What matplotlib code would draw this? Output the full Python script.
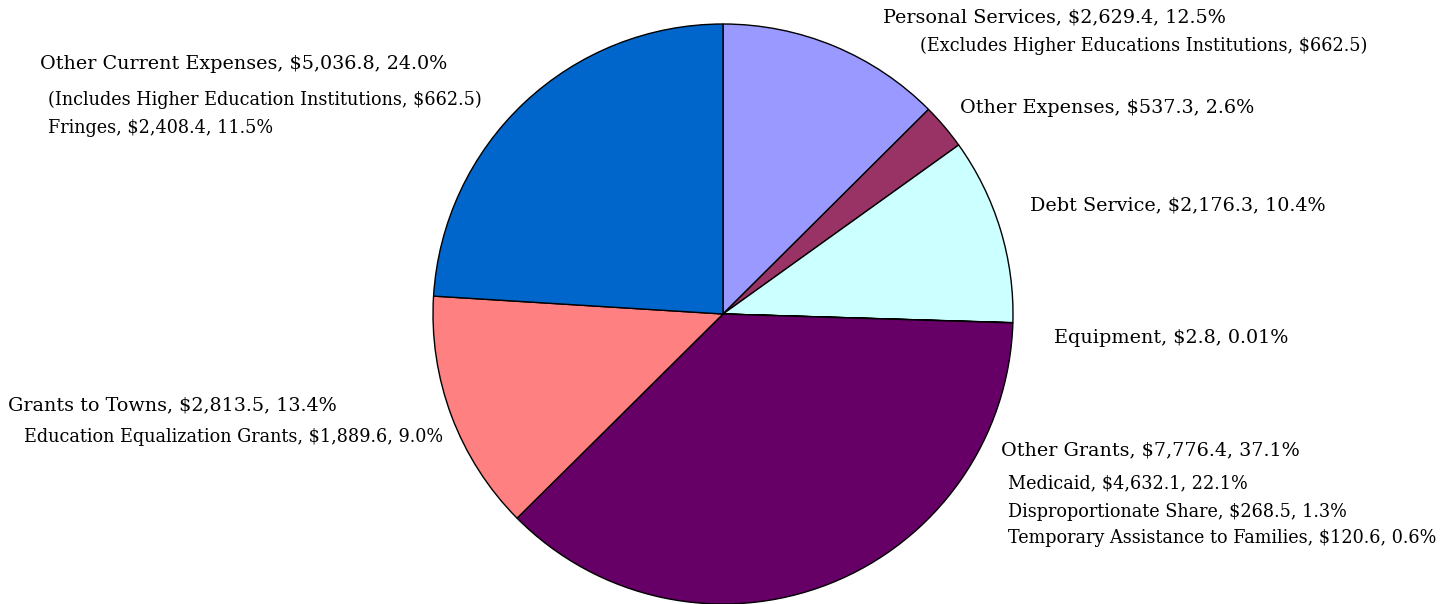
import matplotlib
matplotlib.use("Agg")
import matplotlib.pyplot as plt

# budget categories, clockwise from 12 o'clock ($ millions)
categories = ["Personal Services", "Other Expenses", "Debt Service", "Equipment",
              "Other Grants", "Grants to Towns", "Other Current Expenses"]
amounts = [2629.4, 537.3, 2176.3, 2.8, 7776.4, 2813.5, 5036.8]
pct_labels = ["12.5%", "2.6%", "10.4%", "0.01%", "37.1%", "13.4%", "24.0%"]
colors = ["#9999FF", "#993366", "#CCFFFF", "#FFFFCC", "#660066", "#FF8080", "#0066CC"]

# sub-items shown under some labels
sub_notes = {
    "Personal Services": ["(Excludes Higher Educations Institutions, $662.5)"],
    "Other Current Expenses": ["(Includes Higher Education Institutions, $662.5)",
                               "Fringes, $2,408.4, 11.5%"],
    "Grants to Towns": ["Education Equalization Grants, $1,889.6, 9.0%"],
    "Other Grants": ["Medicaid, $4,632.1, 22.1%",
                     "Disproportionate Share, $268.5, 1.3%",
                     "Temporary Assistance to Families, $120.6, 0.6%"],
}

W, H = 1456, 604
fig = plt.figure(figsize=(W / 100, H / 100), dpi=100)
ax = fig.add_axes([0, 0, 1, 1])

ax.pie(amounts, colors=colors, startangle=90, counterclock=False,
       center=(723, H - 314), radius=290, frame=False,
       wedgeprops=dict(edgecolor="black", linewidth=1.0))
ax.set_xlim(0, W)
ax.set_ylim(0, H)
ax.set_aspect("equal")
ax.axis("off")

font = "DejaVu Serif"
big, small = 13.8, 12.7

# label anchor (left x, top-down y) for main label, then sub lines
label_pos = {
    "Personal Services": (883, 17, [(920, 46)]),
    "Other Expenses": (960, 108, []),
    "Debt Service": (1030, 205, []),
    "Equipment": (1054, 338, []),
    "Other Grants": (1001, 450, [(1008, 483), (1008, 512), (1008, 538)]),
    "Grants to Towns": (8, 405, [(24, 437)]),
    "Other Current Expenses": (40, 64, [(48, 100), (48, 128)]),
}

for name, amt, pct in zip(categories, amounts, pct_labels):
    x, y, subs = label_pos[name]
    ax.text(x, H - y, f"{name}, ${amt:,.1f}, {pct}", fontsize=big,
            family=font, ha="left", va="center")
    for (sx, sy), line in zip(subs, sub_notes.get(name, [])):
        ax.text(sx, H - sy, line, fontsize=small, family=font,
                ha="left", va="center")

fig.savefig("out.png", dpi=100)
